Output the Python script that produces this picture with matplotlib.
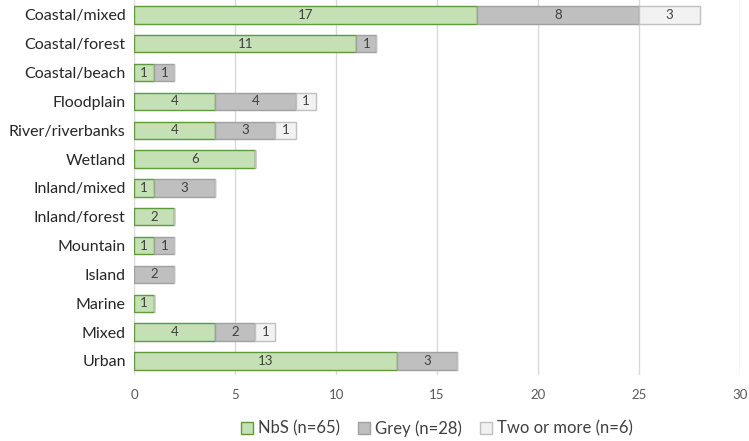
import matplotlib
matplotlib.use("Agg")
import matplotlib.pyplot as plt
import numpy as np

categories = [
    "Coastal/mixed", "Coastal/forest", "Coastal/beach", "Floodplain",
    "River/riverbanks", "Wetland", "Inland/mixed", "Inland/forest",
    "Mountain", "Island", "Marine", "Mixed", "Urban",
]
nbs = [17, 11, 1, 4, 4, 6, 1, 2, 1, 0, 1, 4, 13]
grey = [8, 1, 1, 4, 3, 0, 3, 0, 1, 2, 0, 2, 3]
two_or_more = [3, 0, 0, 1, 1, 0, 0, 0, 0, 0, 0, 1, 0]

series = [
    ("NbS (n=65)", nbs, "#c5e0b4", "#5e9a3a"),
    ("Grey (n=28)", grey, "#bfbfbf", "#a0a0a0"),
    ("Two or more (n=6)", two_or_more, "#f2f2f2", "#c0c0c0"),
]

plt.rcParams["font.family"] = ["Lato", "DejaVu Sans"]

fig = plt.figure(figsize=(7.49, 4.41), dpi=100)
ax = fig.add_axes([0.179, 0.149, 0.809, 0.85])

y = np.arange(len(categories))
left = np.zeros(len(categories))
for label, vals, fc, ec in series:
    vals = np.array(vals, dtype=float)
    bars = ax.barh(y, vals, left=left, height=0.6, color=fc, edgecolor=ec,
                   linewidth=1.0, label=label, zorder=3)
    for b, v in zip(bars, vals):
        if v > 0:
            ax.text(b.get_x() + b.get_width() / 2, b.get_y() + b.get_height() / 2,
                    f"{int(v)}", ha="center", va="center", fontsize=9.5,
                    color="#404040", zorder=4)
    left += vals

ax.set_xlim(0, 30)
ax.set_ylim(len(categories) - 0.5, -0.5)
ax.set_xticks(range(0, 31, 5))
ax.set_yticks(y)
ax.set_yticklabels(categories, fontsize=11.5, color="#262626")
ax.tick_params(axis="x", labelsize=9.5, colors="#595959", length=0, pad=10)
ax.tick_params(axis="y", length=0, pad=6)
ax.grid(axis="x", color="#d9d9d9", linewidth=1.0, zorder=0)
for s in ax.spines.values():
    s.set_visible(False)

ax.legend(loc="upper center", bbox_to_anchor=(0.5, -0.08), ncol=3, frameon=False,
          fontsize=12, handlelength=0.7, handleheight=0.7, handletextpad=0.3,
          columnspacing=1.1, labelcolor="#404040")

fig.savefig("out.png", dpi=100)
